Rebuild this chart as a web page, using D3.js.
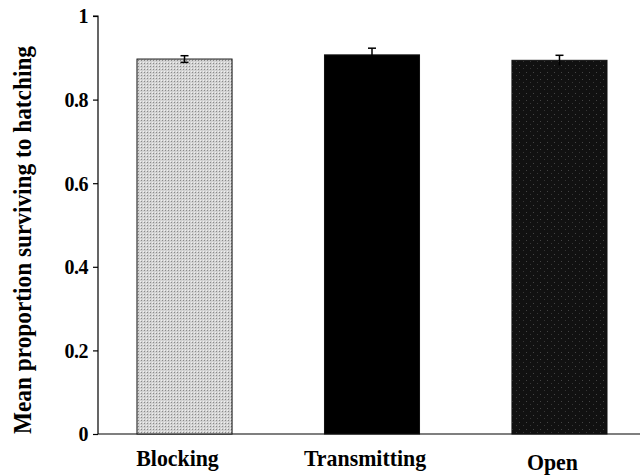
<!DOCTYPE html>
<html>
<head>
<meta charset="utf-8">
<script src="https://cdn.jsdelivr.net/npm/d3@7"></script>
<style>
  html, body { margin: 0; padding: 0; background: #fff; }
  svg { display: block; }
  text { font-family: "Liberation Serif", "DejaVu Serif", serif; font-weight: bold; fill: #000; }
</style>
</head>
<body>
<svg id="chart" width="640" height="476"></svg>
<script>
const categories = ["Blocking", "Transmitting", "Open"];
const means = [0.897, 0.907, 0.894];
const errors = [0.008, 0.016, 0.012];
const yTicks = [0, 0.2, 0.4, 0.6, 0.8, 1];
const yTickLabels = ["0", "0.2", "0.4", "0.6", "0.8", "1"];
const fills = ["url(#stipple)", "#000", "url(#speckle)"];

const svg = d3.select("#chart");
const margin = { top: 16, right: 0, bottom: 42, left: 98 };

// bar fill textures, roughly like the printed figure
const defs = svg.append("defs");
const stip = defs.append("pattern").attr("id", "stipple")
  .attr("width", 3).attr("height", 3).attr("patternUnits", "userSpaceOnUse");
stip.append("rect").attr("width", 3).attr("height", 3).attr("fill", "#d2d2d2");
stip.append("rect").attr("width", 1).attr("height", 1).attr("fill", "#8a8a8a");
stip.append("rect").attr("x", 2).attr("y", 2).attr("width", 1).attr("height", 1).attr("fill", "#f0f0f0");

const spk = defs.append("pattern").attr("id", "speckle")
  .attr("width", 7).attr("height", 7).attr("patternUnits", "userSpaceOnUse");
spk.append("rect").attr("width", 7).attr("height", 7).attr("fill", "#111");
spk.append("rect").attr("x", 1).attr("y", 2).attr("width", 1).attr("height", 1).attr("fill", "#444");
spk.append("rect").attr("x", 5).attr("y", 5).attr("width", 1).attr("height", 1).attr("fill", "#363636");

const y = d3.scaleLinear().domain([0, 1]).range([434, 16]);
const x = d3.scaleBand().domain(categories).range([98, 646]).paddingInner(0.493).paddingOuter(0.208);

// condense a text a bit, like the narrow print face
function condense(sel, k) {
  sel.each(function () {
    const w = this.getComputedTextLength();
    d3.select(this).attr("textLength", w * k).attr("lengthAdjust", "spacingAndGlyphs");
  });
}

// y axis
const yAxis = svg.append("g").attr("transform", `translate(${margin.left},0)`)
  .call(d3.axisLeft(y).tickValues(yTicks).tickSize(5).tickFormat((d, i) => yTickLabels[i]));
yAxis.attr("font-size", null).attr("font-family", null);
yAxis.select(".domain").attr("stroke", "#000").attr("stroke-width", 1.2).attr("d", `M-5,${y(1)}H0V${y(0)}`);
yAxis.selectAll(".tick line").attr("stroke", "#000").attr("stroke-width", 1.2);
yAxis.selectAll(".tick text")
  .attr("x", -10).attr("dy", "0.34em")
  .style("font-size", "20px").style("letter-spacing", "-0.5px");

// x axis baseline
svg.append("line").attr("x1", margin.left).attr("x2", 640)
  .attr("y1", y(0)).attr("y2", y(0)).attr("stroke", "#000").attr("stroke-width", 1.2);

// bars
svg.selectAll("rect.bar").data(categories).join("rect")
  .attr("class", "bar")
  .attr("x", (d) => x(d))
  .attr("y", (d, i) => y(means[i]))
  .attr("width", x.bandwidth())
  .attr("height", (d, i) => y(0) - y(means[i]))
  .attr("fill", (d, i) => fills[i])
  .attr("stroke", "#111").attr("stroke-width", 1);

// error bars
const cx = (d) => x(d) + x.bandwidth() / 2;
const eb = svg.selectAll("g.err").data(categories).join("g").attr("class", "err");
eb.append("line")
  .attr("x1", cx).attr("x2", cx)
  .attr("y1", (d, i) => y(means[i] - errors[i])).attr("y2", (d, i) => y(means[i] + errors[i]))
  .attr("stroke", "#000").attr("stroke-width", 1.5);
eb.append("line")
  .attr("x1", (d) => cx(d) - 4).attr("x2", (d) => cx(d) + 4)
  .attr("y1", (d, i) => y(means[i] + errors[i])).attr("y2", (d, i) => y(means[i] + errors[i]))
  .attr("stroke", "#000").attr("stroke-width", 1.5);
eb.filter((d, i) => i === 0).append("line")
  .attr("x1", (d) => cx(d) - 4).attr("x2", (d) => cx(d) + 4)
  .attr("y1", y(means[0] - errors[0])).attr("y2", y(means[0] - errors[0]))
  .attr("stroke", "#000").attr("stroke-width", 1.5);

// category labels
svg.selectAll("text.cat-label").data(categories).join("text")
  .attr("class", "cat-label")
  .attr("x", (d) => cx(d) - 7)
  .attr("y", (d, i) => (i === 2 ? 470 : 466))
  .attr("text-anchor", "middle")
  .style("font-size", "24px")
  .text((d) => d)
  .call(condense, 0.91);

// y title
svg.append("text").attr("class", "y-title")
  .attr("transform", `translate(31,240) rotate(-90)`)
  .attr("text-anchor", "middle")
  .style("font-size", "25px")
  .attr("textLength", 388)
  .attr("lengthAdjust", "spacingAndGlyphs")
  .text("Mean proportion surviving to hatching");
</script>
</body>
</html>
